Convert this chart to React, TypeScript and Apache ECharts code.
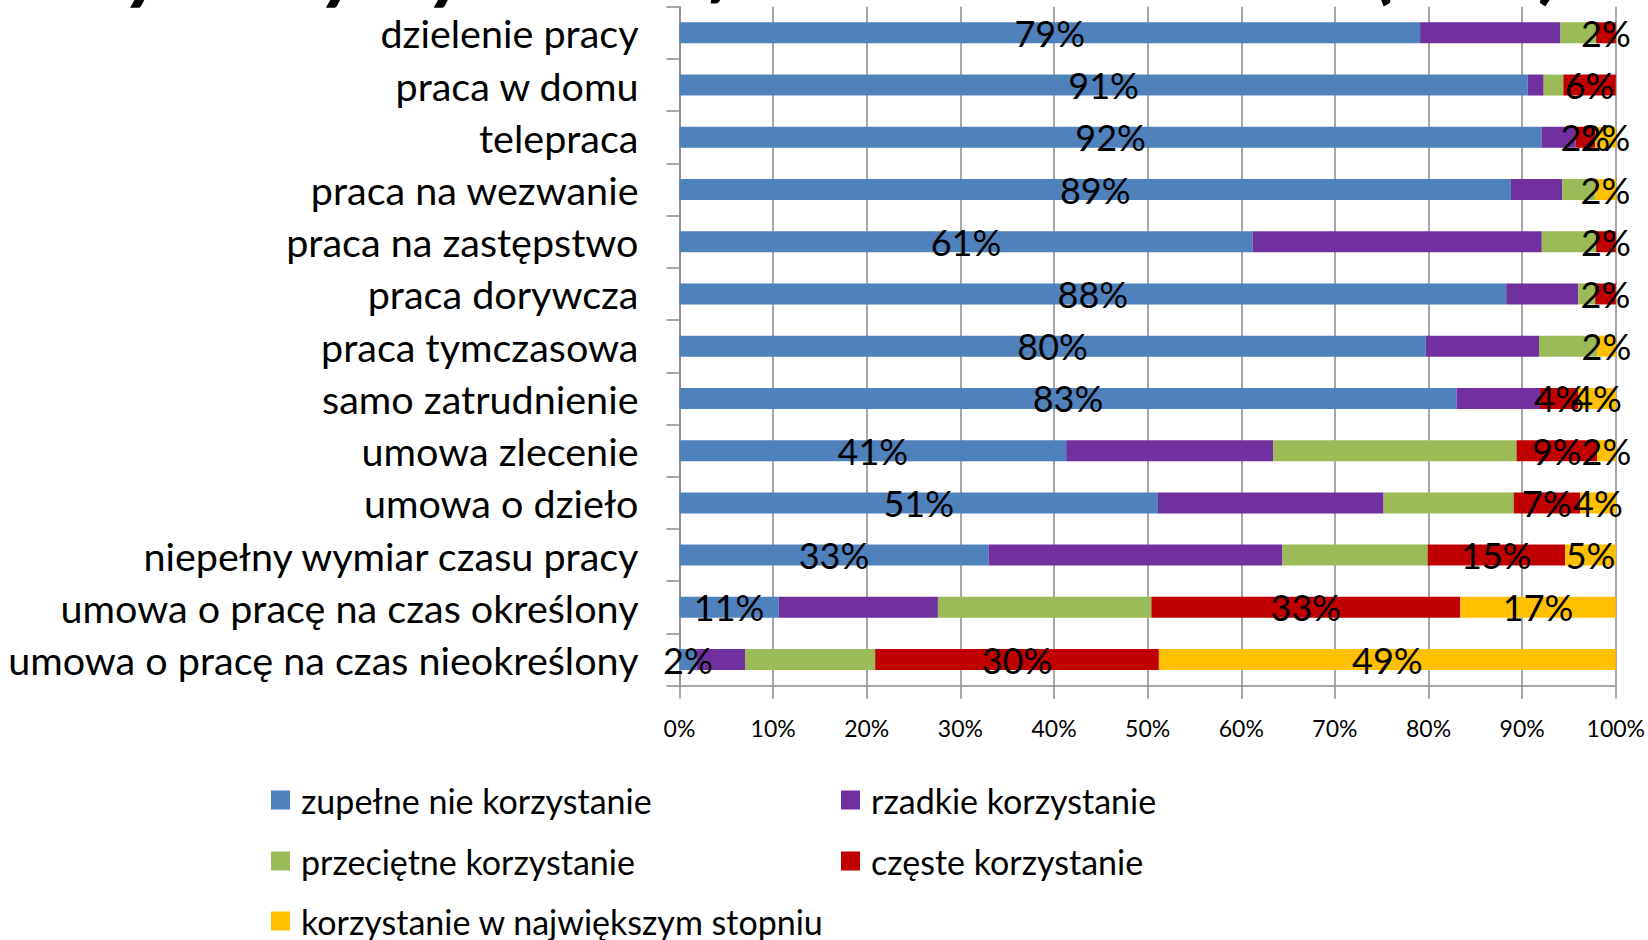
import React, { useEffect, useRef } from "react";
import * as echarts from "echarts";

const titleText = "Wykorzystywanie form zatrudnienia (w %)";

const categories = [
  "dzielenie pracy",
  "praca w domu",
  "telepraca",
  "praca na wezwanie",
  "praca na zastępstwo",
  "praca dorywcza",
  "praca tymczasowa",
  "samo zatrudnienie",
  "umowa zlecenie",
  "umowa o dzieło",
  "niepełny wymiar czasu pracy",
  "umowa o pracę na czas określony",
  "umowa o pracę na czas nieokreślony",
];

const seriesNames = [
  "zupełne nie korzystanie",
  "rzadkie korzystanie",
  "przeciętne korzystanie",
  "częste korzystanie",
  "korzystanie w największym stopniu",
];

const neverUse = [79.1, 90.6, 92.1, 88.8, 61.2, 88.3, 79.7, 83.0, 41.3, 51.1, 33.0, 10.6, 1.8];
const rareUse = [15.0, 1.7, 3.6, 5.5, 30.9, 7.7, 12.1, 8.9, 22.1, 24.1, 31.4, 17.0, 5.2];
const averageUse = [3.8, 2.1, 0, 3.5, 5.8, 1.8, 6.2, 0, 26.0, 13.9, 15.5, 22.8, 13.9];
const frequentUse = [2.1, 5.6, 2.1, 0, 2.1, 2.2, 0, 4.1, 8.6, 7.1, 14.7, 33.0, 30.3];
const maxUse = [0, 0, 2.2, 2.2, 0, 0, 2.0, 4.0, 2.0, 3.8, 5.4, 16.6, 48.8];

const xTicks = [0, 10, 20, 30, 40, 50, 60, 70, 80, 90, 100];

const colors = ["#4F81BD", "#7030A0", "#9BBB59", "#C00000", "#FFC000"];
const labelled = [true, false, false, true, true];
// legend placement: column (0/1) and row (0..2) of each series' legend entry
const legendCol = [0, 1, 0, 1, 0];
const legendRow = [0, 0, 1, 1, 2];

const FONT = "Lato, 'Noto Sans', sans-serif";
const GRAY = "#8a8a8a";

export default function App() {
  const ref = useRef<HTMLDivElement>(null);
  useEffect(() => {
    if (!ref.current) return;
    const chart = echarts.init(ref.current, null, { renderer: "svg" });
    const allData = [neverUse, rareUse, averageUse, frequentUse, maxUse];
    const legendText = { fontFamily: FONT, fontSize: 34, color: "#000", lineHeight: 34, padding: [0, 0, 0, 6] };
    const colX = [266, 836];
    const rowY = [778, 839, 899];
    chart.setOption({
      animation: false,
      textStyle: { fontFamily: FONT },
      color: colors,
      graphic: [
        {
          type: "text",
          left: 44,
          top: -84,
          style: {
            text: titleText,
            font: "italic bold 86px Lato, sans-serif",
            fill: "#000",
          },
        },
      ],
      legend: seriesNames.map((name, i) => ({
        data: [name],
        orient: "horizontal",
        left: colX[legendCol[i]],
        top: rowY[legendRow[i]],
        itemWidth: 19,
        itemHeight: 19,
        icon: "rect",
        textStyle: legendText,
      })),
      grid: { left: 679.5, top: 6.7, width: 936.5, height: 679, containLabel: false },
      xAxis: {
        type: "value",
        min: xTicks[0],
        max: xTicks[xTicks.length - 1],
        interval: xTicks[1] - xTicks[0],
        axisLine: { show: true, lineStyle: { color: GRAY, width: 1.5 } },
        axisTick: { show: true, length: 13, lineStyle: { color: GRAY, width: 1.5 } },
        splitLine: { show: true, lineStyle: { color: GRAY, width: 1.5 } },
        axisLabel: { formatter: "{value}%", fontFamily: FONT, fontSize: 23, color: "#000", margin: 31 },
      },
      yAxis: {
        type: "category",
        inverse: true,
        data: categories,
        axisLine: { show: true, lineStyle: { color: GRAY, width: 1.5 } },
        axisTick: { show: true, length: 13, lineStyle: { color: GRAY, width: 1.5 } },
        axisLabel: { fontFamily: FONT, fontSize: 39.5, color: "#000", margin: 41 },
      },
      series: seriesNames.map((name, i) => ({
        name,
        type: "bar",
        stack: "total",
        barWidth: 21,
        data: allData[i],
        itemStyle: { color: colors[i] },
        label: {
          show: labelled[i],
          position: "inside",
          color: "#000",
          fontFamily: FONT,
          fontSize: 36,
          formatter: (p: any) => (p.value > 0 ? Math.round(p.value) + "%" : ""),
        },
      })),
    });
    return () => chart.dispose();
  }, []);
  return (
    <div ref={ref} style={{ position: "fixed", left: 0, top: 0, width: 1648, height: 940, background: "#fff" }} />
  );
}
